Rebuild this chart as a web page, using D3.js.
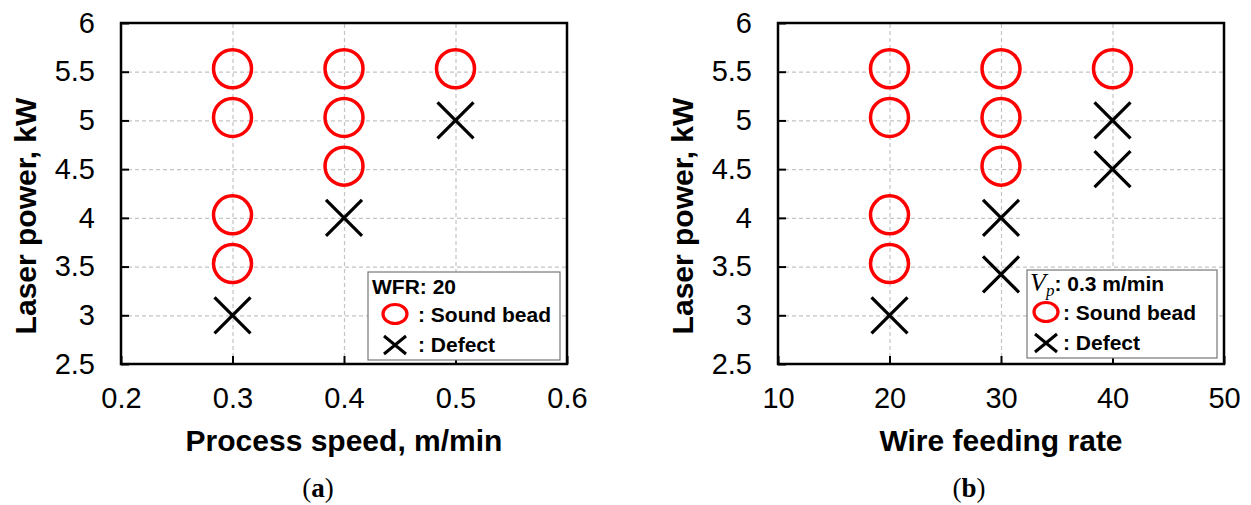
<!DOCTYPE html>
<html lang="en">
<head>
  <meta charset="UTF-8">
  <title>Laser power vs process speed / wire feeding rate</title>
  <script src="https://d3js.org/d3.v7.min.js"></script>
  <style>
    body { margin: 0; background: #fff; }
    svg { font-family: "Liberation Sans", Arial, sans-serif; }
    .grid line { stroke: #c4c4c4; stroke-width: 1.2; stroke-dasharray: 4 3; }
    .grid .domain { display: none; }
    .axis .domain { display: none; }
    .axis line { stroke: #000; stroke-width: 2; }
    .axis text { font-size: 29px; fill: #000; }
  </style>
</head>
<body>
  <svg id="chart" width="1251" height="505"></svg>
  <script>
    // tick values
    const powerTicks = [2.5, 3, 3.5, 4, 4.5, 5, 5.5, 6];
    const speedTicks = [0.2, 0.3, 0.4, 0.5, 0.6];
    const wfrTicks = [10, 20, 30, 40, 50];

    // (a) WFR 20
    const soundSpeed = [0.3, 0.3, 0.3, 0.3, 0.4, 0.4, 0.4, 0.5];
    const soundSpeedPower = [5.5, 5, 4, 3.5, 5.5, 5, 4.5, 5.5];
    const defectSpeed = [0.3, 0.4, 0.5];
    const defectSpeedPower = [3, 4, 5];

    // (b) Vp 0.3 m/min
    const soundWfr = [20, 20, 20, 20, 30, 30, 30, 40];
    const soundWfrPower = [5.5, 5, 4, 3.5, 5.5, 5, 4.5, 5.5];
    const defectWfr = [20, 30, 30, 40, 40];
    const defectWfrPower = [3, 4, 3.42, 5, 4.5];

    const svg = d3.select("#chart");
    const plotTop = 23, plotBottom = 364;

    const y = d3.scaleLinear().domain([2.5, 6]).range([plotBottom, plotTop]);

    function drawPanel(opt) {
      const x = d3.scaleLinear().domain(opt.domain).range([opt.left, opt.right]);
      const w = opt.right - opt.left, h = plotBottom - plotTop;
      const g = svg.append("g");

      // dashed grid
      g.append("g").attr("class", "grid")
        .attr("transform", `translate(${opt.left},0)`)
        .call(d3.axisLeft(y).tickValues(powerTicks.slice(1, -1)).tickSize(-w).tickFormat(""));
      g.append("g").attr("class", "grid")
        .attr("transform", `translate(0,${plotBottom})`)
        .call(d3.axisBottom(x).tickValues(opt.ticks.slice(1, -1)).tickSize(-h).tickFormat(""));

      // axes with inward ticks
      g.append("g").attr("class", "axis")
        .attr("transform", `translate(${opt.left},0)`)
        .call(d3.axisLeft(y).tickValues(powerTicks).tickSize(-8).tickPadding(26).tickFormat(d3.format("")));
      g.append("g").attr("class", "axis")
        .attr("transform", `translate(0,${plotBottom})`)
        .call(d3.axisBottom(x).tickValues(opt.ticks).tickSize(-8).tickPadding(23).tickFormat(d3.format("")));

      g.append("rect")
        .attr("x", opt.left).attr("y", plotTop)
        .attr("width", w).attr("height", h)
        .attr("fill", "none").attr("stroke", "#000").attr("stroke-width", 2.5);

      // sound bead circles (glyph sits ~3px above its value line)
      g.selectAll(".sound")
        .data(opt.sx.map((v, i) => [v, opt.sy[i]]))
        .join("circle")
        .attr("cx", d => x(d[0]))
        .attr("cy", d => y(d[1]) - 3)
        .attr("r", 19)
        .attr("fill", "none")
        .attr("stroke", "#ff0000")
        .attr("stroke-width", 3.5);

      // defect crosses
      const s = 18;
      g.selectAll(".defect")
        .data(opt.dx.map((v, i) => [v, opt.dy[i]]))
        .join("path")
        .attr("d", d => {
          const cx = x(d[0]), cy = y(d[1]);
          return `M${cx - s},${cy - s}L${cx + s},${cy + s}M${cx - s},${cy + s}L${cx + s},${cy - s}`;
        })
        .attr("stroke", "#000")
        .attr("stroke-width", 3.2);

      // axis titles
      g.append("text")
        .attr("x", (opt.left + opt.right) / 2).attr("y", 451)
        .attr("text-anchor", "middle")
        .attr("font-size", 30).attr("font-weight", "bold")
        .text(opt.xTitle);
      g.append("text")
        .attr("transform", `translate(${opt.left - 85},216) rotate(-90)`)
        .attr("text-anchor", "middle")
        .attr("font-size", 30).attr("font-weight", "bold")
        .text("Laser power, kW");

      // caption
      const cap = g.append("text")
        .attr("x", opt.capX).attr("y", 497)
        .attr("text-anchor", "middle")
        .attr("font-family", "'Liberation Serif', 'Times New Roman', serif")
        .attr("font-size", 27);
      cap.append("tspan").text("(");
      cap.append("tspan").attr("font-weight", "bold").text(opt.cap);
      cap.append("tspan").text(")");

      return g;
    }

    function legend(g, box, head) {
      g.append("rect")
        .attr("x", box.x).attr("y", box.y)
        .attr("width", box.w).attr("height", box.h)
        .attr("fill", "#fff").attr("stroke", "#777").attr("stroke-width", 1.2);
      head(g);
      g.append("ellipse")
        .attr("cx", box.mx).attr("cy", box.y + 42)
        .attr("rx", 12).attr("ry", 9.5)
        .attr("fill", "none").attr("stroke", "#ff0000").attr("stroke-width", 3.2);
      const cx = box.mx, cy = box.y + 73;
      g.append("path")
        .attr("d", `M${cx - 11},${cy - 9}L${cx + 11},${cy + 9}M${cx - 11},${cy + 9}L${cx + 11},${cy - 9}`)
        .attr("stroke", "#000").attr("stroke-width", 3);
      g.append("text")
        .attr("x", box.tx).attr("y", box.y + 50)
        .attr("font-size", 21).attr("font-weight", "bold")
        .text(": Sound bead");
      g.append("text")
        .attr("x", box.tx).attr("y", box.y + 80)
        .attr("font-size", 21).attr("font-weight", "bold")
        .text(": Defect");
    }

    const gA = drawPanel({
      left: 121, right: 567, domain: [0.2, 0.6], ticks: speedTicks,
      sx: soundSpeed, sy: soundSpeedPower, dx: defectSpeed, dy: defectSpeedPower,
      xTitle: "Process speed, m/min", cap: "a", capX: 318
    });
    legend(gA, { x: 368, y: 272, w: 192, h: 88, mx: 395, tx: 418 }, g => {
      g.append("text")
        .attr("x", 372).attr("y", 294)
        .attr("font-size", 21).attr("font-weight", "bold")
        .text("WFR: 20");
    });

    const gB = drawPanel({
      left: 778, right: 1224, domain: [10, 50], ticks: wfrTicks,
      sx: soundWfr, sy: soundWfrPower, dx: defectWfr, dy: defectWfrPower,
      xTitle: "Wire feeding rate", cap: "b", capX: 969
    });
    legend(gB, { x: 1027, y: 270, w: 190, h: 88, mx: 1046, tx: 1063 }, g => {
      const t = g.append("text").attr("x", 1030).attr("y", 291).attr("font-size", 21);
      t.append("tspan")
        .attr("font-family", "'Liberation Serif', 'Times New Roman', serif")
        .attr("font-style", "italic").attr("font-size", 26).text("V");
      t.append("tspan")
        .attr("font-family", "'Liberation Serif', 'Times New Roman', serif")
        .attr("font-style", "italic").attr("font-size", 17).attr("dy", 5).text("p");
      t.append("tspan")
        .attr("font-weight", "bold").attr("dy", -5).text(": 0.3 m/min");
    });
  </script>
</body>
</html>
